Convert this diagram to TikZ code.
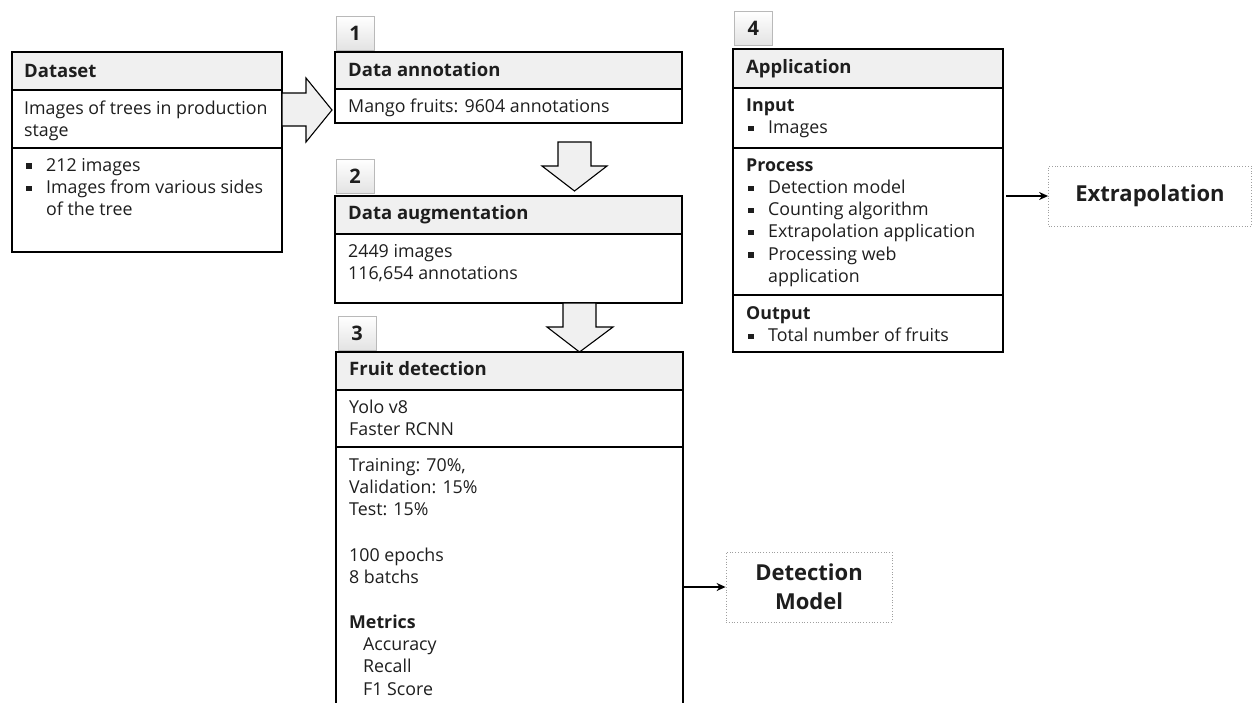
\documentclass[tikz,border=0pt]{standalone}
\usepackage{fontspec}
\setmainfont{Open Sans}
\usetikzlibrary{shadows,arrows.meta}
\definecolor{hdrgray}{HTML}{F0F0F0}
\definecolor{arrowgray}{HTML}{F0F0F0}
\definecolor{ink}{HTML}{1E1E1E}
\newcommand{\bodyfont}{\color{ink}\fontsize{17.8}{22.2}\selectfont}
\newcommand{\headfont}{\color{ink}\fontsize{18.5}{22.2}\selectfont\bfseries}
\newcommand{\badgefont}{\color{ink}\fontsize{20}{24}\selectfont\bfseries}
\newcommand{\outfont}{\color{ink}\fontsize{22}{29}\selectfont\bfseries}
\newcommand{\mybul}{\makebox[22pt][l]{\hspace{2pt}\rule[2.5pt]{5.5pt}{5.5pt}}}
\newcommand{\myind}{\hspace*{22pt}}
\tikzset{
  sec/.style={draw=black, line width=1.1pt, anchor=north west, inner sep=0pt, outer sep=0pt},
  hdr/.style={sec, fill=hdrgray},
  txt/.style={anchor=north west, inner sep=0pt, align=left, font=\bodyfont},
  htxt/.style={anchor=north west, inner sep=0pt, align=left, font=\headfont},
  badge/.style={draw=gray!55, top color=white, bottom color=gray!22, drop shadow={opacity=0.3, shadow xshift=1.2pt, shadow yshift=-1.2pt}, minimum width=38pt, minimum height=34pt, inner sep=0pt, anchor=north west, font=\badgefont},
  bigarrow/.style={draw=black, line width=1.1pt, fill=arrowgray, line join=miter},
  outbox/.style={draw=gray!75, dotted, line width=0.8pt, inner sep=0pt, align=center, font=\outfont},
  conn/.style={-{Stealth[length=9pt,width=8pt]}, line width=1.3pt}
}
\begin{document}
\begin{tikzpicture}[x=1pt,y=-1pt]
\useasboundingbox (0,0) rectangle (1253,702);
\fill[white] (0,0) rectangle (1253,702);
\clip (0,0) rectangle (1253,702);

% Dataset
\node[hdr, minimum width=270pt, minimum height=38pt] (dsh) at (12,52) {};
\node[sec, minimum width=270pt, minimum height=58pt] (dsm) at (12,90) {};
\node[sec, minimum width=270pt, minimum height=104pt] (dsl) at (12,148) {};
\node[htxt] (dsht) at (24,61.6) {\strut Dataset};
\node[txt] (dsmt) at (24,98.6) {\strut Images of trees in production\\\strut stage};
\node[txt] (dslt) at (24,155.6) {\strut\mybul 212 images\\\strut\mybul Images from various sides\\\strut\myind of the tree};

% 1 Data annotation
\node[badge] (b1) at (336,16) {1};
\node[hdr, minimum width=347pt, minimum height=37pt] (anh) at (335,52) {};
\node[sec, minimum width=347pt, minimum height=34pt] (anb) at (335,89) {};
\node[htxt] (anht) at (348,60.6) {\strut Data annotation};
\node[txt] (anbt) at (348,96.6) {\strut Mango fruits: 9604 annotations};

% 2 Data augmentation
\node[badge] (b2) at (336,159) {2};
\node[hdr, minimum width=347pt, minimum height=38pt] (auh) at (335,196) {};
\node[sec, minimum width=347pt, minimum height=69pt] (aub) at (335,234) {};
\node[htxt] (auht) at (348,203.6) {\strut Data augmentation};
\node[txt] (aubt) at (348,241.6) {\strut 2449 images\\\strut 116,654 annotations};

% 3 Fruit detection
\node[badge] (b3) at (338,316) {3};
\node[hdr, minimum width=347pt, minimum height=38pt] (fdh) at (336,352) {};
\node[sec, minimum width=347pt, minimum height=57pt] (fd2) at (336,390) {};
\node[sec, minimum width=347pt, minimum height=280pt] (fd3) at (336,447) {};
\node[htxt] (fdht) at (349,359.6) {\strut Fruit detection};
\node[txt] (fd2t) at (349,397.6) {\strut Yolo v8\\\strut Faster RCNN};
\node[txt] (fd3a) at (349,455.6) {\strut Training: 70\%,\\\strut Validation: 15\%\\\strut Test: 15\%};
\node[txt] (fd3b) at (349,545.6) {\strut 100 epochs\\\strut 8 batchs};
\node[txt] (fd3c) at (349,612.6) {\textbf{\strut Metrics}};
\node[txt] (fd3d) at (363,635) {\strut Accuracy\\\strut Recall\\\strut F1 Score};

% 4 Application
\node[badge] (b4) at (734,11) {4};
\node[hdr, minimum width=270pt, minimum height=39pt] (aph) at (733,49) {};
\node[sec, minimum width=270pt, minimum height=60pt] (apin) at (733,88) {};
\node[sec, minimum width=270pt, minimum height=147pt] (appr) at (733,148) {};
\node[sec, minimum width=270pt, minimum height=57pt] (apout) at (733,295) {};
\node[htxt] (apht) at (746,57.6) {\strut Application};
\node[txt] (apint) at (746,95.6) {\textbf{\strut Input}\\\strut\mybul Images};
\node[txt] (apprt) at (746,155.6) {\textbf{\strut Process}\\\strut\mybul Detection model\\\strut\mybul Counting algorithm\\\strut\mybul Extrapolation application\\\strut\mybul Processing web\\\strut\myind application};
\node[txt] (apoutt) at (746,303.6) {\textbf{\strut Output}\\\strut\mybul Total number of fruits};

% outputs
\node[outbox, minimum width=166pt, minimum height=70pt] (dm) at (809,587) {Detection\\Model};
\node[outbox, minimum width=203pt, minimum height=60pt] (ex) at (1150,196) {Extrapolation};

% block arrows
\draw[bigarrow] (282,93) -- (306,93) -- (306,78) -- (332,110) -- (306,142) -- (306,126) -- (282,126) -- cycle;
\draw[bigarrow] (558,142) -- (591,142) -- (591,166) -- (607,166) -- (574.5,191) -- (542,166) -- (558,166) -- cycle;
\draw[bigarrow] (563,303) -- (596,303) -- (596,327) -- (613,327) -- (579.5,352) -- (547,327) -- (563,327) -- cycle;

% connectors
\draw[conn] (fd3.east |- dm.west) -- (dm.west);
\draw[conn, shorten <=3pt] (appr.east |- ex.west) -- (ex.west);
\end{tikzpicture}
\end{document}
